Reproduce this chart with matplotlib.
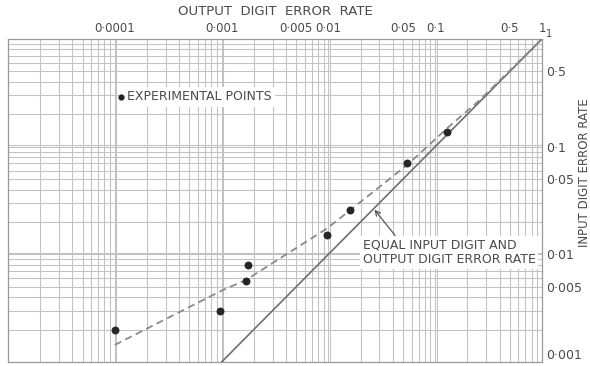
import numpy as np
import matplotlib
matplotlib.use("Agg")
import matplotlib.pyplot as plt

# measured error rates
out_rate = [0.0001, 0.00096, 0.0017, 0.00175, 0.0098, 0.016, 0.055, 0.13]
in_rate = [0.002, 0.003, 0.0056, 0.0079, 0.015, 0.026, 0.071, 0.138]

# fitted trend (dashed)
fit_out = [0.0001, 0.001, 0.0017, 0.0098, 0.055, 0.135, 0.26, 1.0]
fit_in = [0.00144, 0.0046, 0.0058, 0.0175, 0.068, 0.154, 0.27, 1.0]

x_ticks = [0.0001, 0.001, 0.005, 0.01, 0.05, 0.1, 0.5, 1]
x_labels = ["0·0001", "0·001", "0·005", "0·01", "0·05", "0·1", "0·5", "1"]
y_ticks = [1, 0.5, 0.1, 0.05, 0.01, 0.005, 0.001]
y_labels = ["1", "0·5", "0·1", "0·05", "0·01", "0·005", "0·001"]

fam = ["Liberation Sans Narrow", "DejaVu Sans"]
tcol = "#4a4a4a"
gcol = "#c2c2c2"

fig = plt.figure(figsize=(5.9, 3.66), dpi=100)
ax = fig.add_axes([8 / 590, 4 / 366, 534 / 590, 323 / 366])
ax.set_xscale("log")
ax.set_yscale("log")
ax.set_xlim(1e-5, 1)
ax.set_ylim(1e-3, 1)

# graph paper
for d in range(-5, 0):
    for k in range(1, 10):
        v = k * 10.0 ** d
        ax.axvline(v, color=gcol, lw=0.75, zorder=0)
        if k == 1 and d > -5:
            ax.axvline(v * 1.035, color=gcol, lw=0.75, zorder=0)
for d in range(-3, 0):
    for k in range(1, 10):
        v = k * 10.0 ** d
        ax.axhline(v, color=gcol, lw=0.75, zorder=0)
        if k == 1 and d > -3:
            ax.axhline(v * 1.035, color=gcol, lw=0.75, zorder=0)

for s in ax.spines.values():
    s.set_color("#999999")
    s.set_linewidth(0.9)

ax.xaxis.tick_top()
ax.xaxis.set_label_position("top")
ax.yaxis.tick_right()
ax.set_xticks(x_ticks)
ax.set_xticklabels(x_labels, family=fam, fontsize=8.5, color=tcol)
ax.set_yticks(y_ticks)
ax.set_yticklabels(y_labels, family=fam, fontsize=9, color=tcol)
ax.xaxis.set_minor_locator(plt.NullLocator())
ax.yaxis.set_minor_locator(plt.NullLocator())
ax.tick_params(length=0, pad=3)
lbls = ax.get_yticklabels()
lbls[0].set_fontsize(7)
lbls[0].set_va("bottom")
lbls[-1].set_va("bottom")
ax.set_xlabel("OUTPUT  DIGIT  ERROR  RATE", family=fam, fontsize=9.5,
              color=tcol, labelpad=5)
fig.text(584 / 590, 1 - 173 / 366, "INPUT DIGIT ERROR RATE", family=fam,
         fontsize=8.5, color=tcol, rotation=90, ha="center", va="center")

# equal input/output line
ax.plot([1e-3, 1], [1e-3, 1], color="#6e6e6e", lw=1.2, zorder=3)
# trend
ax.plot(fit_out, fit_in, color="#8a8a8a", lw=1.3, ls=(0, (4, 2.5)), zorder=3)
# points
ax.scatter(out_rate, in_rate, s=22, color="#262626", zorder=4)

# legend note
ax.text(1.3e-4, 0.29, "EXPERIMENTAL POINTS", family=fam, fontsize=9,
        color=tcol, va="center", zorder=5,
        bbox=dict(facecolor="white", edgecolor="none", pad=2.5))
ax.scatter([1.15e-4], [0.29], s=12, color="#222222", zorder=6)

ax.annotate("EQUAL INPUT DIGIT AND\nOUTPUT DIGIT ERROR RATE",
            xy=(0.027, 0.026), xytext=(0.021, 0.0105),
            family=fam, fontsize=9, color=tcol, linespacing=1.15,
            ha="left", va="center", zorder=5,
            bbox=dict(facecolor="white", edgecolor="none", pad=2),
            arrowprops=dict(arrowstyle="->", color="#555555", lw=0.9,
                            shrinkA=0, shrinkB=0,
                            relpos=(0.2, 1.0)))

fig.savefig("out.png", dpi=100)
